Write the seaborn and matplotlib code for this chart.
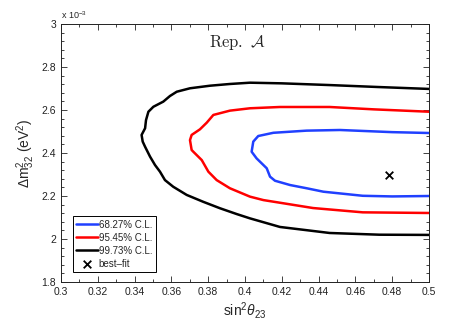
import matplotlib
matplotlib.use("Agg")
import matplotlib.pyplot as plt
import seaborn as sns
import pandas as pd
from matplotlib.ticker import MultipleLocator, FuncFormatter

# contour traces, sin^2(theta23) vs dm^2_32 in units of 1e-3 eV^2
cl68_x = [0.5, 0.48, 0.4516, 0.4335, 0.4154, 0.4072, 0.4045, 0.4036, 0.4063, 0.4118,
          0.4136, 0.4163, 0.4245, 0.4335, 0.4426, 0.4516, 0.464, 0.48, 0.5]
cl68_y = [2.493, 2.497, 2.507, 2.504, 2.494, 2.479, 2.453, 2.406, 2.375, 2.329,
          2.29, 2.271, 2.251, 2.236, 2.22, 2.212, 2.201, 2.198, 2.2]

cl95_x = [0.5, 0.47, 0.446, 0.419, 0.4027, 0.3918, 0.3828, 0.3792, 0.3755, 0.371,
          0.3701, 0.371, 0.3719, 0.3765, 0.3801, 0.3846, 0.3918, 0.4027, 0.41,
          0.437, 0.464, 0.5]
cl95_y = [2.592, 2.603, 2.614, 2.614, 2.608, 2.597, 2.577, 2.541, 2.51, 2.484,
          2.46, 2.414, 2.406, 2.367, 2.313, 2.274, 2.236, 2.197, 2.181,
          2.144, 2.124, 2.121]

cl99_x = [0.5, 0.472, 0.446, 0.42, 0.4027, 0.3918, 0.381, 0.3701, 0.3629, 0.3592,
          0.3556, 0.3502, 0.3475, 0.3462, 0.3457, 0.3438, 0.3444, 0.3457, 0.3484,
          0.3511, 0.3538, 0.3565, 0.361, 0.3683, 0.3773, 0.3864, 0.3955, 0.4027,
          0.419, 0.446, 0.473, 0.5]
cl99_y = [2.698, 2.707, 2.716, 2.724, 2.727, 2.721, 2.713, 2.701, 2.685, 2.665,
          2.639, 2.615, 2.592, 2.553, 2.515, 2.484, 2.453, 2.429, 2.383,
          2.344, 2.313, 2.274, 2.243, 2.205, 2.173, 2.143, 2.116, 2.096,
          2.056, 2.028, 2.02, 2.019]

best_x = [0.478]
best_y = [2.30]

labels = ["68.27% C.L.", "95.45% C.L.", "99.73% C.L."]
colors = ["#2040ff", "#ff0000", "#000000"]

sns.set_style("ticks")
plt.rcParams["font.family"] = ["Liberation Sans", "DejaVu Sans"]
plt.rcParams["mathtext.fontset"] = "custom"
plt.rcParams["mathtext.rm"] = "Liberation Sans"
plt.rcParams["mathtext.it"] = "Liberation Sans:italic"

fig = plt.figure(figsize=(4.74, 3.21), dpi=100)
ax = fig.add_axes([61 / 474, 1 - 282 / 321, 368 / 474, 258 / 321])

curves = [(cl68_x, cl68_y), (cl95_x, cl95_y), (cl99_x, cl99_y)]
for (cx, cy), lab, col in zip(curves, labels, colors):
    df = pd.DataFrame({"s23": cx, "dm": cy})
    sns.lineplot(data=df, x="s23", y="dm", sort=False, estimator=None,
                 color=col, lw=1.8, label=lab, ax=ax)
for ln in ax.lines:
    ln.set_solid_joinstyle("round")

bf = pd.DataFrame({"s23": best_x, "dm": best_y})
sns.scatterplot(data=bf, x="s23", y="dm", marker="x", color="black", s=30,
                linewidth=1.3, label="best\u2013fit", ax=ax)

ax.set_xlim(0.3, 0.5)
ax.set_ylim(1.8, 3.0)
ax.xaxis.set_major_locator(MultipleLocator(0.02))
ax.xaxis.set_minor_locator(MultipleLocator(0.01))
ax.yaxis.set_major_locator(MultipleLocator(0.2))
ax.yaxis.set_minor_locator(MultipleLocator(0.04))
fmt = FuncFormatter(lambda v, p: f"{round(v, 4):g}")
ax.xaxis.set_major_formatter(fmt)
ax.yaxis.set_major_formatter(fmt)
ax.tick_params(which="both", direction="in", top=True, right=True,
               colors="#222222", labelsize=7.5, width=0.6)
ax.tick_params(which="major", length=4)
ax.tick_params(which="minor", length=2)
for sp in ax.spines.values():
    sp.set_linewidth(0.7)
    sp.set_color("#222222")

ax.set_xlabel(r"sin$^2\theta_{23}$", fontsize=10, labelpad=2)
ax.set_ylabel(r"$\Delta$m$^2_{32}$ (eV$^2$)", fontsize=10, labelpad=3)
ax.text(0.0, 1.01, r"x 10$^{-3}$", transform=ax.transAxes, fontsize=6.5,
        ha="left", va="bottom")
ax.text(0.3957, 2.912, r"$\mathrm{Rep.}\ \mathcal{A}$", fontsize=12,
        math_fontfamily="cm", ha="center", va="center")

leg = ax.legend(loc="lower left", bbox_to_anchor=(12 / 368, 10 / 258),
                borderaxespad=0, fontsize=7, frameon=True, fancybox=False,
                edgecolor="black", framealpha=1, handlelength=2.2,
                handletextpad=0.1, labelspacing=0.3, borderpad=0.35)
leg.get_frame().set_linewidth(0.7)

fig.savefig("out.png", dpi=100)
